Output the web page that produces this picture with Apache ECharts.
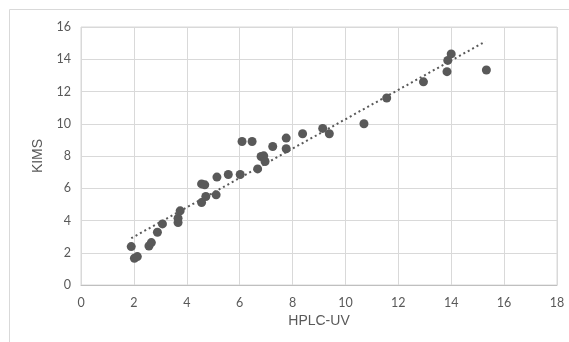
<!DOCTYPE html>
<html><head><meta charset="utf-8">
<script src="https://cdn.jsdelivr.net/npm/echarts@6/dist/echarts.min.js"></script>
<style>html,body{margin:0;padding:0;background:#fff}#c{width:569px;height:342px}</style>
</head><body><div id="c"></div>
<script>
const hplcUV = [1.90,2.02,2.13,2.57,2.66,2.89,3.08,3.67,3.67,3.75,4.56,4.72,4.56,4.68,5.11,5.14,5.57,6.02,6.68,6.81,6.09,6.47,6.91,6.96,7.25,7.76,7.76,8.38,9.14,9.39,10.7,11.56,12.95,13.84,13.87,14.0,15.33];
const kims   = [2.38,1.66,1.76,2.42,2.63,3.27,3.79,3.87,4.14,4.60,5.11,5.49,6.27,6.21,5.59,6.69,6.85,6.85,7.20,7.97,8.90,8.90,8.01,7.66,8.59,9.11,8.45,9.38,9.71,9.38,10.0,11.6,12.6,13.23,13.93,14.33,13.33];
const trendX = [1.9, 15.29];
const trendY = [2.9, 15.1];
const xTicks = [0,2,4,6,8,10,12,14,16,18];
const yTicks = [0,2,4,6,8,10,12,14,16];

const pts = hplcUV.map((x,i)=>[x,kims[i]]);
const trend = trendX.map((x,i)=>[x,trendY[i]]);
const chart = echarts.init(document.getElementById('c'));
const lab = {color:'#595959', fontFamily:'Lato, "Open Sans", sans-serif', fontSize:12.5};
chart.setOption({
  animation:false,
  graphic:[{type:'rect',shape:{x:9.5,y:9.5,width:600,height:400},style:{fill:null,stroke:'#d9d9d9',lineWidth:1},z:-1}],
  grid:{left:81,right:12,top:27,bottom:57,show:true,borderColor:'#d9d9d9',borderWidth:1},
  xAxis:{type:'value',min:0,max:18,interval:2,
    name:'HPLC-UV',nameLocation:'middle',nameGap:27,
    nameTextStyle:{color:'#595959',fontFamily:'"Liberation Sans", Arial, sans-serif',fontSize:14},
    axisLine:{show:true,lineStyle:{color:'#bfbfbf'}},axisTick:{show:false},
    axisLabel:Object.assign({margin:11},lab),
    splitLine:{show:true,lineStyle:{color:'#d9d9d9'}}},
  yAxis:{type:'value',min:0,max:16,interval:2,
    name:'KIMS',nameLocation:'middle',nameGap:34,nameRotate:90,
    nameTextStyle:{color:'#595959',fontFamily:'"Liberation Sans", Arial, sans-serif',fontSize:14},
    axisLine:{show:false},axisTick:{show:false},
    axisLabel:Object.assign({margin:10},lab),
    splitLine:{show:true,lineStyle:{color:'#d9d9d9'}}},
  series:[
    {type:'line',data:trend,symbol:'none',lineStyle:{color:'#595959',width:2,type:[2,3]},z:1},
    {type:'scatter',data:pts,symbol:'circle',symbolSize:9,itemStyle:{color:'#595959',opacity:1},z:2}
  ]
});
</script></body></html>
